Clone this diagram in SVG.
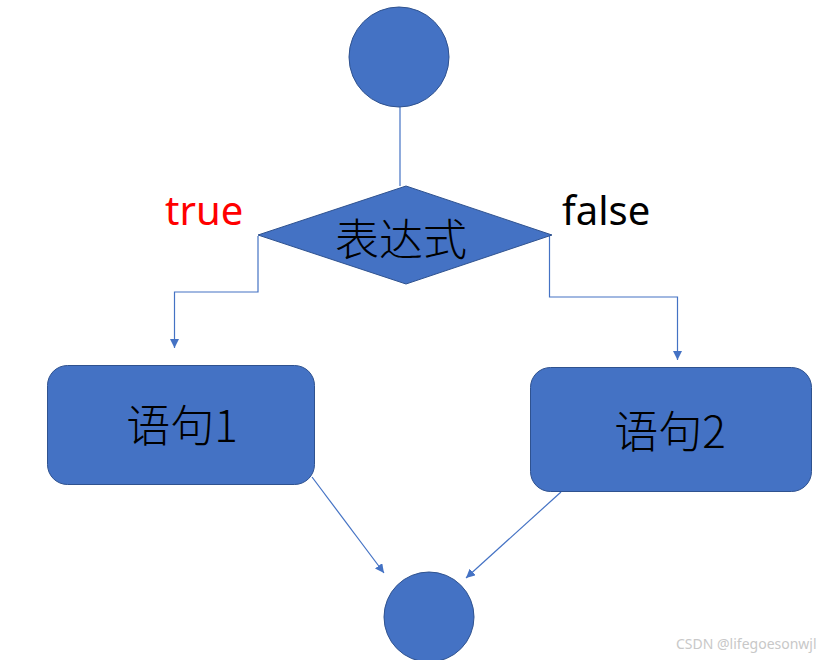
<svg xmlns="http://www.w3.org/2000/svg" width="833" height="660" viewBox="0 0 833 660">
<defs>
<style>
.shape{fill:#4472C4;stroke:#2F528F;stroke-width:1}
.conn{fill:none;stroke:#4472C4;stroke-width:1.2}
.lbl{font-family:"Microsoft YaHei","Noto Sans CJK SC","Noto Sans",sans-serif;font-size:44px;font-weight:300;fill:#000;text-anchor:middle}
.edge{font-family:"Noto Sans","Liberation Sans",sans-serif;font-size:40px}
</style>
<marker id="arr" viewBox="0 0 10 10" refX="10" refY="5" markerWidth="9" markerHeight="9" markerUnits="userSpaceOnUse" orient="auto">
<path d="M0,0 L10,5 L0,10 z" fill="#4472C4"/>
</marker>
</defs>
<rect width="833" height="660" fill="#fff"/>
<g id="connectors">
<line class="conn" x1="400" y1="107" x2="400" y2="186"/>
<polyline class="conn" points="258,236 258,292 174.5,292 174.5,348" marker-end="url(#arr)"/>
<polyline class="conn" points="549.5,236 549.5,297 677.5,297 677.5,360" marker-end="url(#arr)"/>
<line class="conn" x1="312" y1="477" x2="384" y2="573" marker-end="url(#arr)"/>
<line class="conn" x1="561" y1="492" x2="466" y2="578" marker-end="url(#arr)"/>
</g>
<g id="start"><circle class="shape" cx="399" cy="57" r="50"/></g>
<g id="cond">
<polygon class="shape" points="406,186 552,235 406,284 258,235"/>
<text class="lbl" x="401" y="256">表达式</text>
</g>
<g id="stmt1">
<rect class="shape" x="47.5" y="365.5" width="267" height="119" rx="20" ry="20"/>
<text class="lbl" x="182" y="442">语句1</text>
</g>
<g id="stmt2">
<rect class="shape" x="530.5" y="367.5" width="281" height="124" rx="20" ry="20"/>
<text class="lbl" x="670" y="448">语句2</text>
</g>
<g id="end"><circle class="shape" cx="429" cy="617" r="45"/></g>
<text class="edge" x="165" y="225" fill="#FF0000">true</text>
<text class="edge" x="562" y="225" fill="#000">false</text>
<text x="676" y="649" font-family="'Noto Sans','Liberation Sans',sans-serif" font-size="14" fill="#c8c8c8">CSDN @lifegoesonwjl</text>
</svg>
